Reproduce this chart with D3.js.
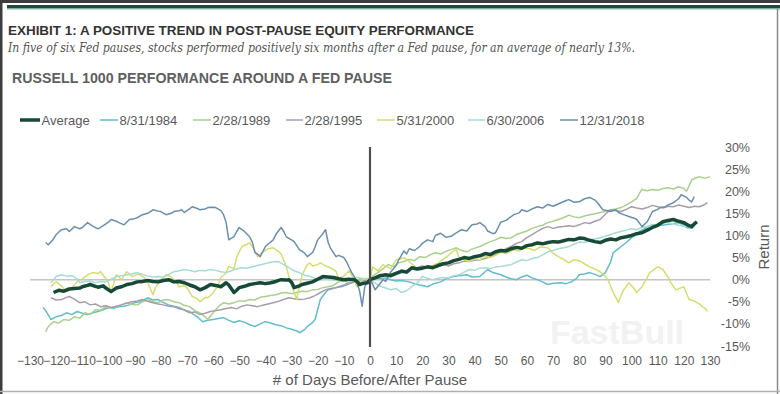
<!DOCTYPE html>
<html>
<head>
<meta charset="utf-8">
<script src="https://cdn.jsdelivr.net/npm/d3@7"></script>
<style>
  body { margin: 0; background: #fff; }
  text { font-family: "Liberation Sans", Arial, sans-serif; }
</style>
</head>
<body>
<div id="chart-div"></div>
<script>
const WIDTH = 780;
const HEIGHT = 394;

// tick labels
const xTicks = d3.range(-130, 131, 10);
const yTicks = [-15, -10, -5, 0, 5, 10, 15, 20, 25, 30];

// series: [day, return %]
const average = [[-121,-2.9],[-119,-2.4],[-117,-2.6],[-115,-2.1],[-113,-2.0],[-111,-1.9],[-110,-1.6],[-108,-1.3],[-107,-1.1],[-105,-1.5],[-104,-1.7],[-102,-1.4],[-101,-1.9],[-99,-2.7],[-98,-2.3],[-97,-1.9],[-95,-1.6],[-93,-1.1],[-91,-0.9],[-89,-0.5],[-87,-0.4],[-85,-0.2],[-83,-0.4],[-81,-0.5],[-79,-0.2],[-77,0],[-75,-0.5],[-73,-0.4],[-71,-0.7],[-69,-1.2],[-67,-1.6],[-65,-2.3],[-63,-1.8],[-61,-1.1],[-59,-1.3],[-57,-1.6],[-55,-0.7],[-54,-1.2],[-52,-2.9],[-51,-2.4],[-50,-1.8],[-48,-1.5],[-46,-1.1],[-44,-0.9],[-42,-0.7],[-40,-0.9],[-38,-0.7],[-36,-0.4],[-34,0],[-32,-0.1],[-31,0],[-30,-0.6],[-29,-1.8],[-27,-1.4],[-26,-1.1],[-24,-0.8],[-22,-0.5],[-20,0.1],[-18,0.7],[-16,0.6],[-14,0.5],[-12,0.2],[-10,0],[-8,0.1],[-6,0],[-5,-0.4],[-4,-1.1],[-3,-0.9],[-1,-0.7],[0,0],
  [2,0.4],[4,0.9],[6,1.1],[8,0.9],[10,1.4],[12,1.9],[14,1.7],[16,2.7],[18,2.4],[20,2.6],[22,2.9],[24,2.7],[26,3.2],[28,3.6],[30,3.8],[32,4.3],[34,4.6],[36,5.0],[38,4.8],[40,5.2],[42,5.4],[44,5.9],[46,5.7],[48,6.3],[50,6.6],[52,6.5],[54,7.0],[56,7.3],[58,7.1],[60,7.7],[62,7.9],[64,8.3],[66,8.1],[68,8.4],[70,8.6],[72,8.5],[74,8.8],[76,9.1],[78,9.0],[80,9.4],[82,9.3],[84,8.9],[86,8.6],[88,8.4],[90,8.9],[92,9.2],[94,9.0],[96,9.5],[98,9.7],[100,10.0],[102,10.4],[104,10.6],[106,11.2],[108,11.8],[110,12.3],[112,13.1],[114,13.4],[116,13.6],[118,13.2],[120,12.9],[122,12.2],[123,12.0],[124,12.6],[125,13.1]];

const s1984 = [[-125,-6.3],[-124,-7.0],[-122,-9.0],[-120,-8.4],[-118,-8.1],[-116,-7.5],[-114,-7.9],[-112,-7.2],[-110,-7.6],[-108,-7.9],[-106,-7.5],[-104,-7.2],[-102,-6.8],[-100,-6.3],[-98,-6.5],[-96,-6.1],[-94,-6.0],[-92,-5.7],[-90,-5.2],[-88,-5.0],[-86,-4.4],[-85,-4.1],[-83,-4.6],[-81,-4.5],[-79,-5.2],[-77,-5.7],[-75,-6.0],[-73,-6.3],[-71,-6.9],[-69,-7.2],[-67,-8.0],[-66,-8.4],[-64,-9.5],[-62,-9.2],[-60,-9.0],[-58,-8.8],[-56,-8.6],[-54,-9.2],[-52,-9.7],[-50,-9.3],[-48,-9.6],[-46,-10.2],[-44,-10.6],[-42,-10.0],[-40,-9.5],[-38,-9.8],[-36,-10.2],[-34,-10.4],[-32,-10.9],[-30,-11.2],[-28,-11.6],[-27,-12.0],[-25,-11.3],[-24,-10.6],[-22,-9.7],[-21,-9.0],[-20,-6.8],[-19,-4.5],[-17,-2.9],[-16,-2.3],[-14,-2.0],[-12,-1.6],[-10,-1.2],[-8,-0.7],[-6,-0.6],[-4,-0.4],[-2,-0.2],[0,0],
  [2,0.5],[4,0.2],[6,0.4],[8,0],[10,-0.3],[12,-0.2],[15,-0.5],[17,-0.9],[19,-1.2],[22,-1.6],[24,-1.0],[27,-0.5],[29,0.2],[32,0.7],[34,0.9],[37,1.1],[39,0.6],[42,0.7],[44,1.8],[45,2.3],[47,1.6],[50,1.1],[52,0.6],[54,0.2],[56,0],[58,0.6],[60,1.0],[62,0.4],[64,0],[66,-0.5],[68,-1.1],[70,-0.8],[73,-0.7],[75,-0.9],[77,-0.5],[79,0.3],[80,1.1],[82,1.3],[84,1.6],[86,1.2],[88,0.7],[89,1.2],[90,1.6],[92,4.0],[93,6.1],[95,7.0],[96,7.5],[98,8.4],[100,9.5],[102,10.3],[103,10.9],[105,11.5],[106,12.0],[108,12.4],[110,12.2],[113,12.4],[115,12.6],[118,12.9],[120,12.3],[121,11.8],[123,11.6],[124,12.0]];

const s1989 = [[-124,-11.8],[-123,-10.6],[-121,-9.5],[-119,-9.8],[-117,-9.0],[-115,-9.2],[-113,-8.4],[-111,-8.7],[-109,-7.5],[-107,-7.9],[-105,-6.8],[-103,-6.9],[-101,-6.1],[-99,-6.5],[-97,-6.1],[-95,-5.7],[-93,-5.2],[-91,-5.6],[-89,-5.7],[-87,-5.0],[-85,-4.5],[-83,-5.0],[-81,-5.2],[-79,-4.6],[-77,-4.5],[-75,-5.0],[-73,-5.2],[-71,-5.8],[-69,-6.1],[-67,-7.0],[-65,-7.5],[-63,-8.4],[-62,-9.0],[-60,-7.5],[-58,-6.1],[-56,-5.2],[-54,-5.5],[-52,-5.2],[-50,-4.8],[-48,-4.9],[-46,-4.5],[-44,-4.6],[-42,-4.0],[-40,-3.8],[-38,-3.6],[-36,-3.4],[-34,-3.0],[-32,-2.9],[-30,-3.2],[-28,-2.9],[-26,-2.6],[-24,-2.7],[-22,-2.3],[-20,-2.2],[-18,-1.8],[-16,-1.6],[-14,-1.3],[-12,-0.5],[-10,-0.2],[-8,-0.8],[-6,-0.5],[-4,0.2],[-2,-0.3],[0,0],
  [1,0.8],[3,1.6],[5,2.5],[7,3.4],[9,3.0],[11,3.8],[13,4.1],[15,4.6],[17,4.3],[19,5.2],[21,5.0],[23,5.6],[25,6.1],[27,5.8],[29,6.4],[31,6.8],[33,7.2],[35,6.6],[37,6.3],[39,6.9],[42,7.5],[44,8.1],[46,8.6],[48,9.0],[50,9.6],[52,9.3],[54,9.5],[56,10.2],[58,10.6],[60,11.0],[62,11.6],[64,12.0],[66,12.3],[68,12.9],[70,13.2],[72,13.6],[74,14.0],[76,14.6],[78,14.2],[80,14.0],[82,14.4],[84,14.7],[86,14.9],[88,15.2],[90,15.4],[92,15.8],[94,16.0],[96,16.3],[98,16.9],[100,17.6],[102,18.4],[103,19.5],[104,20.4],[106,20.1],[108,20.4],[110,20.2],[112,20.6],[114,20.8],[116,20.5],[118,21.0],[120,20.6],[121,20.0],[122,21.2],[123,22.6],[125,23.1],[126,23.3],[128,22.9],[130,23.3]];

const s1995 = [[-122,-4.1],[-120,-4.6],[-118,-4.5],[-116,-4.0],[-115,-3.8],[-113,-4.4],[-111,-5.2],[-109,-5.0],[-107,-5.7],[-105,-5.5],[-103,-6.1],[-101,-5.9],[-99,-6.3],[-97,-6.0],[-95,-5.7],[-93,-5.3],[-91,-5.0],[-89,-4.8],[-87,-4.5],[-85,-4.9],[-83,-5.2],[-81,-5.5],[-79,-5.7],[-77,-6.0],[-75,-6.1],[-73,-6.6],[-71,-6.8],[-69,-7.5],[-67,-7.3],[-65,-7.9],[-63,-7.6],[-61,-7.2],[-59,-7.0],[-57,-6.8],[-55,-6.5],[-53,-6.3],[-51,-6.6],[-49,-6.0],[-47,-5.7],[-45,-5.9],[-43,-6.1],[-41,-5.8],[-39,-5.5],[-37,-5.2],[-35,-4.9],[-33,-4.5],[-31,-4.1],[-29,-4.3],[-27,-4.5],[-25,-4.4],[-23,-4.1],[-21,-3.6],[-19,-2.9],[-17,-2.3],[-15,-2.0],[-13,-1.8],[-11,-1.6],[-9,-1.2],[-7,-0.7],[-5,-0.5],[-3,-0.2],[-1,-0.3],[0,0],
  [2,0.7],[4,1.2],[6,0.9],[8,1.3],[10,1.6],[12,2.2],[14,2.0],[16,2.5],[18,2.7],[20,3.1],[22,2.6],[24,2.9],[26,2.9],[28,3.4],[30,3.1],[32,3.6],[34,3.8],[36,4.2],[38,4.1],[40,4.4],[42,4.5],[44,4.8],[46,5.2],[48,5.7],[50,6.3],[52,7.0],[54,7.5],[56,8.2],[58,8.6],[60,9.5],[62,10.2],[64,10.9],[66,11.6],[68,12.0],[70,11.6],[72,11.9],[74,12.0],[76,12.2],[78,12.0],[80,12.4],[82,12.9],[84,12.7],[86,13.2],[88,13.6],[90,14.8],[92,15.8],[94,15.6],[96,15.4],[98,15.9],[100,16.5],[102,16.2],[104,16.0],[106,16.3],[108,16.8],[110,16.5],[112,16.2],[114,16.6],[116,16.5],[118,16.9],[120,16.6],[122,16.3],[124,16.6],[126,16.5],[128,17.0],[129,17.4]];

const s2000 = [[-122,-1.6],[-121,-0.9],[-120,-0.5],[-118,-1.4],[-116,-2.7],[-114,-1.9],[-112,-0.5],[-110,0.2],[-108,1.1],[-106,1.6],[-104,1.4],[-103,1.8],[-101,0.2],[-100,-0.7],[-99,-2.7],[-98,-0.9],[-97,1.1],[-95,0],[-93,1.8],[-91,0.7],[-89,1.2],[-88,1.1],[-86,0.3],[-85,-0.7],[-84,-2.0],[-83,-3.4],[-82,-1.8],[-80,0],[-79,0.5],[-78,1.1],[-76,0.6],[-75,0],[-74,-0.6],[-73,-1.6],[-71,-1.4],[-70,-1.8],[-68,-3.8],[-66,-4.3],[-65,-5.0],[-63,-4.0],[-62,-4.1],[-60,-3.0],[-58,-1.2],[-57,0.5],[-55,1.5],[-54,3.0],[-52,2.5],[-51,5.0],[-49,7.5],[-47,8.0],[-46,8.4],[-44,6.5],[-43,5.2],[-41,6.3],[-39,7.0],[-37,7.2],[-35,6.4],[-34,5.8],[-32,3.0],[-31,0.7],[-30,-1.0],[-29,-2.9],[-28,-4.5],[-27,-1.5],[-26,1.0],[-24,3.4],[-23,3.8],[-22,3.1],[-20,3.4],[-19,3.8],[-17,3.1],[-16,2.9],[-14,2.3],[-13,1.9],[-12,0.2],[-10,0.8],[-8,2.0],[-7,1.0],[-5,-1.6],[-4,-0.8],[-3,0],[-1,0.3],[0,0],
  [1,2.9],[3,2.0],[5,3.4],[6,3.0],[8,2.5],[10,4.5],[12,4.8],[13,5.0],[15,4.1],[17,3.0],[18,2.3],[20,2.5],[22,2.7],[24,3.2],[26,3.8],[28,4.6],[30,5.5],[31,6.1],[33,6.8],[34,5.0],[36,4.5],[38,4.1],[40,4.7],[42,4.5],[44,5.3],[46,5.0],[48,5.5],[50,6.2],[52,5.9],[55,6.8],[57,6.5],[59,7.2],[61,7.0],[63,6.6],[65,7.4],[68,7.2],[70,6.0],[72,5.2],[74,4.6],[76,3.8],[78,4.5],[80,4.3],[82,3.6],[84,2.9],[86,2.4],[88,1.8],[90,0.8],[91,0],[92,-1.5],[93,-2.9],[94,-4.0],[95,-5.2],[96,-3.5],[97,-2.3],[99,-0.7],[101,-2.0],[102,-2.9],[104,-1.6],[106,0.5],[107,1.6],[109,2.5],[110,2.9],[112,2.3],[114,0.5],[115,-0.7],[117,-2.3],[119,-1.8],[120,-1.6],[122,-4.5],[124,-4.8],[125,-5.2],[126,-5.5],[127,-6.1],[128,-6.4],[129,-7.2]];

const s2006 = [[-122,-0.7],[-121,0],[-120,0.7],[-118,1.1],[-116,0.8],[-114,0.9],[-112,0.2],[-111,-0.7],[-109,-0.4],[-107,-0.3],[-105,-0.7],[-103,-0.4],[-101,-0.5],[-99,0.1],[-97,0.7],[-95,0.9],[-93,1.1],[-91,1.3],[-89,1.6],[-87,1.2],[-85,0.8],[-83,0.6],[-81,0.7],[-79,0.5],[-77,1.2],[-75,1.8],[-73,2.0],[-71,2.3],[-69,2.1],[-67,1.8],[-65,2.1],[-63,2.0],[-61,2.3],[-59,2.1],[-57,1.8],[-55,1.6],[-53,2.0],[-51,2.4],[-49,2.7],[-47,2.6],[-45,2.9],[-43,3.2],[-41,3.5],[-39,3.8],[-37,4.0],[-35,4.1],[-33,3.4],[-31,2.7],[-29,2.0],[-27,1.6],[-25,1.0],[-23,0.7],[-21,0.3],[-19,0],[-17,0.2],[-15,0],[-13,-0.2],[-11,0],[-9,0],[-7,0.2],[-5,0.5],[-3,0.3],[-1,0.1],[0,0],
  [2,-0.8],[4,-1.5],[6,-1.9],[8,-2.3],[10,-2.0],[12,-2.9],[14,-2.5],[16,-1.6],[18,-0.8],[20,0.7],[22,0.3],[24,0],[26,0.3],[28,0.5],[30,0.4],[32,0.9],[34,1.1],[36,1.7],[38,2.3],[40,2.1],[42,2.6],[44,2.7],[46,2.5],[48,2.9],[50,3.0],[52,3.2],[54,3.4],[56,4.0],[58,4.5],[60,4.3],[62,4.8],[64,5.0],[66,5.6],[68,6.3],[70,6.6],[72,7.0],[74,7.2],[76,7.5],[78,8.0],[80,8.5],[82,8.4],[84,8.9],[86,9.2],[88,9.5],[90,9.8],[92,10.2],[94,10.6],[96,10.9],[98,11.2],[100,11.5],[102,11.3],[104,11.8],[106,12.0],[108,12.3],[110,12.6],[112,12.8],[114,12.9],[116,12.6],[118,12.3],[120,12.1],[122,12.0],[124,11.8]];

const s2018 = [[-124,8.4],[-123,7.9],[-121,9.2],[-120,10.2],[-118,11.3],[-116,11.5],[-115,10.9],[-113,12.0],[-111,11.5],[-110,11.8],[-108,12.9],[-106,12.1],[-104,11.5],[-102,12.2],[-100,13.0],[-99,13.6],[-97,13.2],[-96,12.9],[-94,12.4],[-92,13.6],[-90,13.8],[-89,14.0],[-87,14.7],[-85,15.0],[-83,15.8],[-81,15.5],[-80,15.4],[-78,14.7],[-76,15.0],[-75,15.4],[-73,15.6],[-72,15.8],[-71,15.2],[-69,16.0],[-68,16.5],[-66,16.1],[-65,15.8],[-63,16.0],[-62,16.3],[-60,16.4],[-59,16.3],[-57,15.6],[-56,14.7],[-55,12.9],[-54,9.0],[-53,9.4],[-52,9.7],[-51,10.9],[-50,11.8],[-49,11.3],[-48,10.9],[-46,9.7],[-45,8.5],[-44,6.1],[-43,5.8],[-42,5.2],[-41,6.3],[-40,7.5],[-39,8.0],[-37,9.0],[-36,10.2],[-34,11.8],[-33,10.9],[-32,9.7],[-30,9.0],[-29,8.6],[-28,7.7],[-27,6.8],[-25,6.0],[-24,5.2],[-22,6.1],[-21,7.4],[-20,9.0],[-18,10.4],[-17,11.3],[-16,8.4],[-15,7.0],[-13,5.2],[-12,5.5],[-10,5.0],[-9,4.1],[-8,2.8],[-7,1.6],[-6,0.7],[-5,-0.7],[-4,-2.5],[-3,-6.0],[-2,-1.6],[-1,-0.5],[0,0],
  [1,-1.0],[2,-2.3],[3,-1.5],[5,0],[6,-0.4],[8,1.8],[10,3.2],[11,4.5],[13,6.5],[14,5.8],[15,7.0],[17,6.6],[19,7.5],[20,8.2],[22,9.0],[24,8.6],[25,10.0],[27,10.5],[29,9.6],[31,9.8],[33,10.6],[35,11.3],[37,11.0],[39,12.4],[41,12.6],[42,12.9],[44,12.0],[45,11.0],[47,10.4],[48,10.6],[50,13.0],[52,13.4],[55,14.7],[57,15.1],[58,15.8],[60,15.4],[62,16.0],[64,16.5],[66,16.2],[68,17.0],[70,16.6],[73,17.4],[75,17.9],[76,18.1],[78,17.5],[80,17.6],[82,18.3],[84,18.6],[86,18.0],[87,17.4],[89,15.8],[91,15.6],[92,15.4],[94,15.8],[95,15.2],[97,14.7],[99,14.3],[101,13.9],[102,13.6],[104,12.0],[106,13.1],[108,15.4],[110,15.9],[111,16.3],[113,16.5],[114,16.9],[116,17.4],[118,18.3],[119,19.2],[121,18.6],[122,18.0],[123,17.6],[124,18.8]];

const seriesNames = ["Average", "8/31/1984", "2/28/1989", "2/28/1995", "5/31/2000", "6/30/2006", "12/31/2018"];
const seriesData = [average, s1984, s1989, s1995, s2000, s2006, s2018];
const seriesColors = ["#174a36", "#62bccb", "#a9d08e", "#a89cab", "#d5dd70", "#a5dcd4", "#6a8fae"];

let svg = d3.select("#chart-div")
    .append("svg")
    .attr("width", WIDTH)
    .attr("height", HEIGHT);

// frame
svg.append("rect").attr("x", 0).attr("y", 0).attr("width", WIDTH).attr("height", 3).attr("fill", "#3d3d3d");
svg.append("rect").attr("x", 0).attr("y", 0).attr("width", 2.5).attr("height", HEIGHT).attr("fill", "#3d3d3d");
svg.append("rect").attr("x", 7).attr("y", 5).attr("width", WIDTH - 7).attr("height", 3.5).attr("fill", "#1d4a39");
svg.append("rect").attr("x", 7).attr("y", 8.5).attr("width", WIDTH - 7).attr("height", 1).attr("fill", "#7fb3a3");
svg.append("line").attr("x1", 777.5).attr("x2", 777.5).attr("y1", 9).attr("y2", HEIGHT).attr("stroke", "#8a8a8a").attr("stroke-width", 1.5);
svg.append("line").attr("x1", 0).attr("x2", WIDTH).attr("y1", 391.5).attr("y2", 391.5).attr("stroke", "#b0b0b0").attr("stroke-width", 1.5);

// headings
svg.append("text")
    .attr("x", 8).attr("y", 35)
    .attr("textLength", 466).attr("lengthAdjust", "spacingAndGlyphs")
    .style("font-size", "12.5px").style("font-weight", "bold").attr("fill", "#333")
    .text("EXHIBIT 1: A POSITIVE TREND IN POST-PAUSE EQUITY PERFORMANCE");

svg.append("text")
    .attr("x", 8).attr("y", 52)
    .attr("textLength", 627).attr("lengthAdjust", "spacingAndGlyphs")
    .style("font-family", "'DejaVu Serif', serif").style("font-style", "italic")
    .style("font-size", "12.5px").attr("fill", "#555")
    .text("In five of six Fed pauses, stocks performed positively six months after a Fed pause, for an average of nearly 13%.");

svg.append("text")
    .attr("x", 12).attr("y", 83)
    .attr("textLength", 380).attr("lengthAdjust", "spacingAndGlyphs")
    .style("font-size", "15px").style("font-weight", "bold").attr("fill", "#5f5f5f")
    .text("RUSSELL 1000 PERFORMANCE AROUND A FED PAUSE");

// scales
let xScale = d3.scaleLinear().domain([-130, 130]).range([30, 710]);
let yScale = d3.scaleLinear().domain([-15, 30]).range([346, 147]);

// watermark
svg.append("text")
    .attr("x", 617).attr("y", 344)
    .attr("text-anchor", "middle")
    .style("font-size", "34px").style("font-weight", "bold")
    .attr("fill", "#f2f2f2")
    .text("FastBull");

// zero line
svg.append("line")
    .attr("x1", xScale(-130)).attr("x2", xScale(130))
    .attr("y1", yScale(0)).attr("y2", yScale(0))
    .attr("stroke", "#c4c4c4").attr("stroke-width", 1.5);

// x axis labels
let xAxis = svg.append("g")
    .attr("transform", "translate(0," + yScale(-15) + ")")
    .call(d3.axisBottom(xScale).tickValues(xTicks).tickSize(0).tickPadding(10.5));
xAxis.select(".domain").remove();
xAxis.selectAll("text")
    .style("font-family", "'Liberation Sans', Arial, sans-serif")
    .style("font-size", "12px").attr("fill", "#595959");

// y axis labels on right
let yAxis = svg.append("g")
    .attr("transform", "translate(750,0)")
    .call(d3.axisRight(yScale).tickValues(yTicks).tickSize(0).tickPadding(0).tickFormat(d => d + "%"));
yAxis.select(".domain").remove();
yAxis.selectAll("text")
    .attr("text-anchor", "end")
    .style("font-family", "'Liberation Sans', Arial, sans-serif")
    .style("font-size", "12.5px").attr("fill", "#595959");

// axis titles
svg.append("text")
    .attr("x", 370).attr("y", 385)
    .attr("text-anchor", "middle")
    .style("font-size", "15px").attr("fill", "#595959")
    .text("# of Days Before/After Pause");

svg.append("text")
    .attr("transform", "translate(769,247)rotate(-90)")
    .attr("text-anchor", "middle")
    .style("font-size", "15px").attr("fill", "#595959")
    .text("Return");

// lines
let line = d3.line()
    .x(d => xScale(d[0]))
    .y(d => yScale(d[1]));

// draw individual pauses first, average on top
let order = [1, 2, 3, 4, 5, 6, 0];
svg.append("g")
    .selectAll("path")
    .data(order)
    .enter()
    .append("path")
    .attr("d", i => line(seriesData[i]))
    .attr("fill", "none")
    .attr("stroke", i => seriesColors[i])
    .attr("stroke-width", i => i === 0 ? 3.5 : 1.5)
    .attr("stroke-linejoin", "round");

// vertical pause line
svg.append("line")
    .attr("x1", xScale(0)).attr("x2", xScale(0))
    .attr("y1", 147).attr("y2", 347)
    .attr("stroke", "#505050").attr("stroke-width", 2.2);

// legend
const legendLineX = [20, 100, 193, 286, 377, 468, 560];
const legendLineW = [20, 18, 18, 17, 18, 17, 18];
let legend = svg.append("g");
seriesNames.forEach((name, i) => {
    legend.append("line")
        .attr("x1", legendLineX[i]).attr("x2", legendLineX[i] + legendLineW[i])
        .attr("y1", 120).attr("y2", 120)
        .attr("stroke", seriesColors[i])
        .attr("stroke-width", i === 0 ? 3.5 : 1.5);
    legend.append("text")
        .attr("x", legendLineX[i] + legendLineW[i] + 1.5).attr("y", 125)
        .style("font-size", "13px").attr("fill", "#595959")
        .text(name);
});
</script>
</body>
</html>
